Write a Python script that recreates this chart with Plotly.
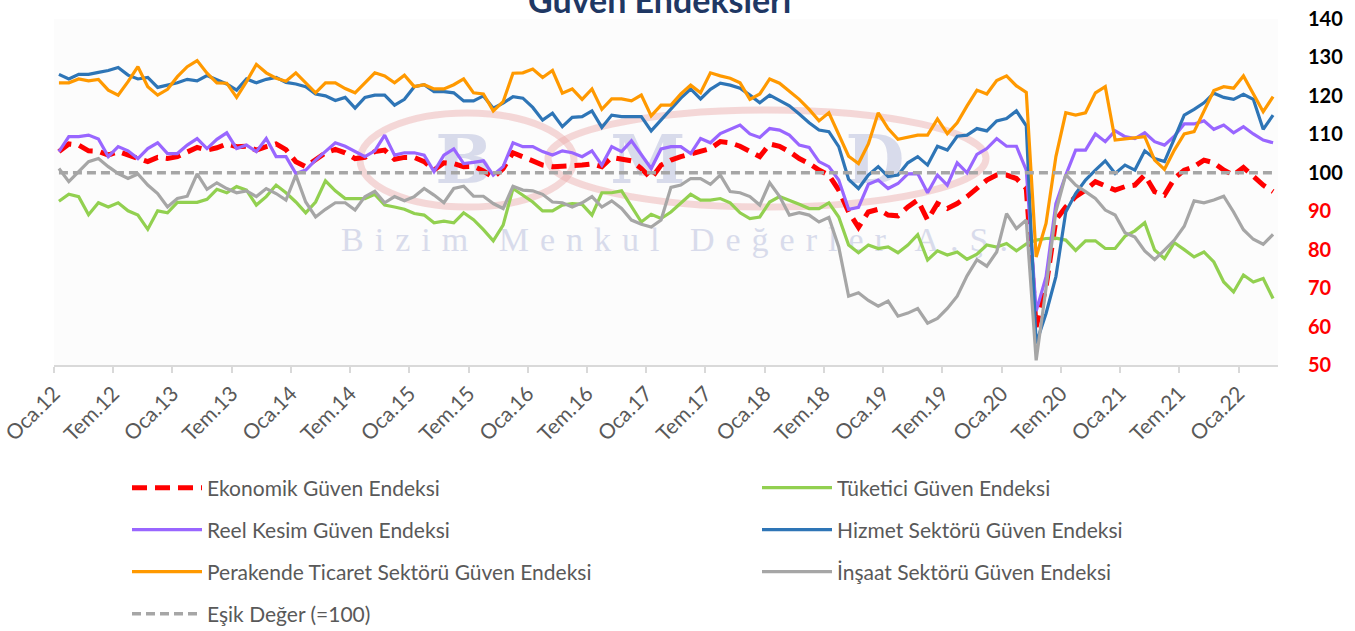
import plotly.graph_objects as go

# ---------------- data ----------------
tr_months = ["Oca", "Şub", "Mar", "Nis", "May", "Haz", "Tem", "Ağu", "Eyl", "Eki", "Kas", "Ara"]
n_months = 124  # Oca.12 .. Nis.22
categories = [f"{tr_months[i % 12]}.{12 + i // 12:02d}" for i in range(n_months)]

ekonomik = [105.5, 107.5, 107.2, 105.7, 105.6, 104.6, 105.5, 104.6, 104.0, 102.9, 104.0, 103.7, 104.2, 105.5, 106.6, 105.9, 106.5, 107.5, 106.8, 106.9, 105.9, 106.8, 107.5, 106.0,
            102.9, 101.6, 103.5, 105.2, 106.1, 105.2, 103.7, 104.0, 105.5, 105.9, 103.5, 104.0, 104.0, 102.9, 100.7, 102.6, 102.4, 101.6, 101.7, 100.5, 98.8, 101.1, 105.2,
            104.3, 103.1, 102.0, 101.6, 101.7, 101.7, 102.0, 102.3, 101.6, 104.0, 103.5, 103.1, 101.1, 98.5, 102.0, 103.3, 104.2, 104.9, 105.5, 106.3, 108.1, 107.8, 106.9,
            105.7, 104.2, 107.5, 106.9, 105.5, 103.7, 102.4, 100.7, 99.4, 95.5, 89.8, 85.8, 89.8, 90.5, 89.0, 88.8, 91.1, 92.9, 87.7, 92.0, 90.7, 92.0, 93.8, 96.0,
            98.1, 99.4, 99.4, 98.5, 95.9, 59.9, 70.3, 87.7, 91.1, 93.8, 95.5, 97.7, 96.5, 95.5, 96.4, 96.8, 99.4, 95.1, 94.2, 98.5, 100.7, 101.6, 103.3, 102.6, 100.7, 99.4, 101.4, 99.0, 96.8, 95.1]

tuketici = [92.6, 94.4, 93.8, 89.1, 92.2, 91.1, 92.2, 90.1, 89.0, 85.3, 90.1, 89.6, 92.3, 92.3, 92.3, 93.1, 95.7, 94.8, 96.4, 95.5, 91.6, 93.8, 96.8, 94.8,
            92.4, 89.6, 92.4, 97.9, 95.3, 93.3, 93.3, 93.3, 94.4, 91.6, 91.1, 90.5, 89.4, 89.0, 87.0, 87.4, 87.0, 89.6, 87.8, 85.2, 82.3, 86.4, 95.9,
            94.2, 92.4, 90.1, 90.1, 91.6, 92.0, 91.8, 89.0, 94.8, 94.8, 95.3, 91.1, 87.2, 89.2, 88.1, 89.8, 92.2, 94.4, 92.9, 92.9, 93.3, 92.2, 89.6,
            88.1, 88.5, 92.4, 93.8, 92.9, 91.8, 90.7, 90.7, 92.2, 88.5, 81.2, 79.2, 81.2, 80.3, 80.7, 79.2, 81.2, 83.9, 77.3, 79.7, 78.6, 79.4, 77.5, 78.8,
            81.2, 80.7, 81.6, 79.7, 81.5, 82.5, 82.9, 83.0, 82.5, 79.8, 82.3, 82.3, 80.3, 80.3, 83.5, 84.9, 87.0, 79.9, 77.7, 81.8, 80.0, 78.1, 79.4, 76.8, 71.6, 69.0, 73.4, 71.6, 72.5, 67.3]

reel_kesim = [105.5, 109.4, 109.4, 109.8, 108.8, 104.2, 106.8, 105.7, 103.7, 106.3, 107.8, 105.0, 105.0, 107.2, 108.9, 106.3, 108.7, 110.4, 106.3, 107.2, 105.5, 108.9, 104.2, 104.2,
              99.8, 100.7, 103.3, 105.5, 107.8, 106.9, 105.5, 104.2, 105.7, 109.8, 104.6, 105.2, 105.2, 104.6, 100.3, 104.6, 106.2, 102.4, 102.7, 103.1, 99.4, 101.6, 107.8,
              106.8, 106.8, 105.5, 104.6, 105.7, 105.2, 104.2, 105.7, 102.0, 106.8, 105.5, 108.3, 104.6, 101.1, 106.2, 106.8, 106.8, 105.0, 108.9, 107.8, 110.2, 111.3, 112.4,
              110.1, 109.2, 111.5, 111.1, 109.8, 107.2, 106.6, 102.9, 101.6, 98.1, 90.5, 91.0, 97.0, 98.1, 95.9, 97.2, 99.7, 99.8, 94.8, 99.4, 96.8, 102.6, 100.0, 104.8,
              106.3, 108.9, 106.9, 106.9, 100.7, 64.0, 72.9, 92.0, 99.4, 105.9, 105.9, 110.1, 108.1, 110.9, 109.4, 108.9, 110.4, 108.1, 107.2, 109.5, 112.7, 112.7, 113.5, 111.3, 112.4, 110.4, 112.0, 110.1, 108.5, 107.8]

hizmet = [125.6, 124.4, 125.6, 125.6, 126.1, 126.6, 127.4, 125.4, 124.4, 124.8, 122.2, 122.7, 123.4, 124.3, 123.9, 125.3, 124.3, 123.1, 121.5, 124.4, 123.4, 124.3, 124.8, 123.5,
          123.1, 122.4, 120.5, 120.0, 118.8, 119.6, 116.8, 119.6, 120.2, 120.2, 117.6, 119.1, 122.4, 122.9, 121.1, 121.1, 120.8, 118.7, 118.7, 120.0, 116.8, 118.1, 119.8,
          119.4, 117.0, 113.7, 115.5, 112.0, 114.4, 114.6, 116.1, 111.8, 115.0, 114.6, 114.6, 114.6, 110.9, 113.7, 116.8, 119.4, 121.8, 119.2, 121.7, 123.3, 122.8, 122.0,
          120.2, 118.2, 120.2, 118.9, 117.4, 115.3, 113.0, 111.1, 110.7, 106.8, 98.3, 95.9, 99.4, 101.6, 99.0, 99.4, 102.6, 104.2, 102.0, 106.9, 105.9, 109.5, 109.8, 111.5,
          110.9, 113.5, 114.1, 116.1, 112.2, 55.6, 63.4, 73.0, 89.8, 94.6, 98.1, 100.7, 103.1, 99.8, 102.0, 100.7, 105.7, 103.7, 102.9, 108.9, 115.0, 116.5, 118.2, 120.7, 119.6, 119.1, 120.4, 119.1, 111.3, 115.0]

perakende = [123.4, 123.4, 124.4, 123.9, 124.3, 121.5, 120.2, 123.7, 127.6, 122.4, 120.2, 121.7, 125.0, 127.6, 129.2, 125.9, 123.4, 123.3, 119.6, 123.7, 128.2, 126.0, 124.6, 123.8,
             126.0, 123.3, 120.8, 123.4, 123.4, 121.9, 120.8, 123.4, 126.0, 125.2, 123.4, 125.4, 122.4, 122.9, 121.8, 121.8, 122.9, 124.4, 120.8, 120.5, 116.1, 118.5, 125.9,
             126.0, 127.0, 124.8, 126.6, 120.7, 121.8, 119.1, 121.8, 116.5, 119.2, 119.2, 118.7, 120.2, 114.8, 117.6, 117.6, 120.5, 122.8, 120.8, 126.0, 125.2, 124.6, 123.4,
             119.1, 120.5, 124.4, 123.3, 121.3, 119.1, 116.5, 113.5, 115.6, 110.1, 104.3, 102.4, 107.5, 115.6, 111.5, 108.7, 109.2, 109.8, 109.8, 114.0, 110.2, 113.0, 117.4, 121.5,
             120.5, 124.0, 125.2, 122.6, 120.9, 78.1, 86.8, 104.2, 115.6, 115.0, 115.6, 120.8, 122.4, 108.5, 108.8, 109.2, 109.4, 103.3, 100.9, 105.9, 110.1, 110.7, 115.9, 121.4, 122.4, 122.0, 125.2, 120.7, 115.9, 119.8]

insaat = [101.1, 97.7, 100.3, 102.9, 103.7, 101.6, 99.8, 98.5, 99.7, 96.8, 94.6, 91.1, 93.3, 93.9, 99.7, 95.7, 97.4, 95.9, 94.8, 95.3, 93.8, 95.9, 94.6, 92.9,
          99.4, 92.4, 88.5, 90.5, 92.2, 92.2, 90.3, 93.8, 95.2, 92.2, 93.8, 92.7, 93.8, 95.9, 94.2, 92.2, 95.9, 96.5, 93.9, 93.9, 92.0, 90.7, 96.5,
          95.5, 95.3, 94.4, 92.4, 92.2, 91.1, 92.2, 93.8, 91.1, 92.7, 90.7, 87.7, 86.6, 85.9, 87.7, 96.2, 96.8, 98.5, 98.5, 97.0, 99.4, 95.1, 94.8,
          93.8, 91.6, 97.4, 93.9, 89.0, 89.6, 89.0, 87.2, 88.4, 80.7, 67.9, 68.8, 66.8, 65.3, 66.6, 62.7, 63.5, 64.7, 60.9, 62.1, 64.7, 67.9, 73.2, 77.4,
          75.7, 79.4, 89.4, 85.5, 87.7, 51.2, 70.0, 90.0, 99.5, 96.8, 95.1, 93.3, 90.3, 89.0, 84.4, 83.3, 79.7, 77.4, 79.9, 82.5, 86.1, 92.7, 92.2, 92.9, 93.9, 89.8, 85.2, 82.7, 81.4, 84.0]

esik_deger = [100] * n_months

y_tick_values = [50, 60, 70, 80, 90, 100, 110, 120, 130, 140]

for s in (ekonomik, tuketici, reel_kesim, hizmet, perakende, insaat):
    assert len(s) == n_months, len(s)

# ---------------- geometry helpers (pixel -> paper) ----------------
W, H = 1355, 631
ML, MR, MT, MB = 54, 77, 19, 266
PW, PH = W - ML - MR, H - MT - MB


def px(x):
    return (x - ML) / PW


def py(y):
    return (H - MB - y) / PH


x_idx = list(range(n_months))
FONT = "Lato, Carlito, 'Open Sans', Arial, sans-serif"

# legend slots: (column x of symbol start, row centre y) in pixels
COL1, COL2 = 127, 757
ROWS = [488, 530, 572, 614]

series = [
    ("Ekonomik Güven Endeksi", ekonomik, dict(color="#FF0000", width=5, dash="15px,8px"), (COL1, ROWS[0])),
    ("Tüketici Güven Endeksi", tuketici, dict(color="#92D050", width=3.2), (COL2, ROWS[0])),
    ("Reel Kesim Güven Endeksi", reel_kesim, dict(color="#9966FF", width=3.2), (COL1, ROWS[1])),
    ("Hizmet Sektörü Güven Endeksi", hizmet, dict(color="#2E75B6", width=3.2), (COL2, ROWS[1])),
    ("Perakende Ticaret Sektörü Güven Endeksi", perakende, dict(color="#FF9900", width=3.2), (COL1, ROWS[2])),
    ("İnşaat Sektörü Güven Endeksi", insaat, dict(color="#A6A6A6", width=3.2), (COL2, ROWS[2])),
    ("Eşik Değer (=100)", esik_deger, dict(color="#A6A6A6", width=3.5, dash="9px,5px"), (COL1, ROWS[3])),
]

fig = go.Figure()
legend_layout = {}
for k, (name, vals, line, (lx, ly)) in enumerate(series):
    key = "legend" if k == 0 else f"legend{k + 1}"
    fig.add_trace(go.Scatter(
        x=x_idx, y=vals, name=name, mode="lines", line=line, legend=key,
        customdata=categories, hovertemplate="%{customdata}: %{y}<extra>" + name + "</extra>",
    ))
    legend_layout[key] = dict(
        orientation="h", x=px(lx), xanchor="left", y=py(ly), yanchor="middle",
        bgcolor="rgba(0,0,0,0)", itemwidth=70,
        font=dict(family=FONT, size=21, color="#595959"),
    )

# ---------------- axes ----------------
y_ticktext = []
for v in y_tick_values:
    col = "#000000" if v >= 100 else "#FF0000"
    y_ticktext.append(f'<b><span style="color:{col}">{v}</span></b>')

fig.update_xaxes(
    range=[-0.5, n_months - 0.5],
    tickmode="array",
    tickvals=[i - 0.5 for i in range(0, n_months, 6)],
    ticktext=categories[::6],
    tickangle=-45,
    ticks="outside", ticklen=6, tickwidth=1.5, tickcolor="#D9D9D9",
    showline=True, linecolor="#D9D9D9", linewidth=2,
    showgrid=False, zeroline=False,
    ticklabeloverflow="allow",
    tickfont=dict(family=FONT, size=21, color="#595959"),
)
fig.update_yaxes(
    range=[50, 140], side="right",
    tickmode="array", tickvals=y_tick_values, ticktext=y_ticktext,
    ticks="outside", ticklen=25, tickcolor="rgba(0,0,0,0)",
    showgrid=False, zeroline=False, showline=False,
    ticklabeloverflow="allow",
    tickfont=dict(family=FONT, size=20, color="#000000"),
)

# ---------------- watermark (below traces) ----------------
pink = "rgba(236,170,170,0.45)"
lav = "#D8DBEB"
shapes = [
    dict(type="circle", xref="paper", yref="paper", x0=px(360), x1=px(574), y0=py(207), y1=py(113),
         line=dict(color=pink, width=7), layer="below"),
    dict(type="circle", xref="paper", yref="paper", x0=px(548), x1=px(986), y0=py(207), y1=py(110),
         line=dict(color=pink, width=7), layer="below"),
]
for letter, cx in (("B", 464), ("M", 648), ("D", 875)):
    shapes.append(dict(type="rect", xref="paper", yref="paper", x0=px(cx - 80), x1=px(cx + 80),
                       y0=py(190), y1=py(120), line=dict(width=0), fillcolor="rgba(0,0,0,0)", layer="below",
                       label=dict(text=f"<b>{letter}</b>", textposition="middle center",
                                  font=dict(family="'DejaVu Serif', 'Liberation Serif', serif", size=68, color=lav))))
shapes.append(dict(type="rect", xref="paper", yref="paper", x0=px(300), x1=px(1060),
                   y0=py(252), y1=py(218), line=dict(width=0), fillcolor="rgba(0,0,0,0)", layer="below",
                   label=dict(text='<span style="letter-spacing:11px">Bizim Menkul Değerler A.Ş.</span>',
                              textposition="middle center",
                              font=dict(family="'Liberation Serif', 'DejaVu Serif', serif", size=34, color=lav))))

fig.update_layout(
    width=W, height=H, autosize=False,
    margin=dict(l=ML, r=MR, t=MT, b=MB, pad=0, autoexpand=False),
    paper_bgcolor="#FFFFFF", plot_bgcolor="#FCFCFC",
    font=dict(family=FONT, color="#595959"),
    showlegend=True,
    shapes=shapes,
    annotations=[dict(text="<b>Güven Endeksleri</b>", xref="paper", yref="paper",
                      x=px(659), y=py(22), xanchor="center", yanchor="bottom", showarrow=False,
                      font=dict(family=FONT, size=34, color="#1F3864"))],
    hovermode="closest",
    **legend_layout,
)

fig.write_html("out.html", config={"displayModeBar": False},
               post_script="document.body.style.margin='0';")
